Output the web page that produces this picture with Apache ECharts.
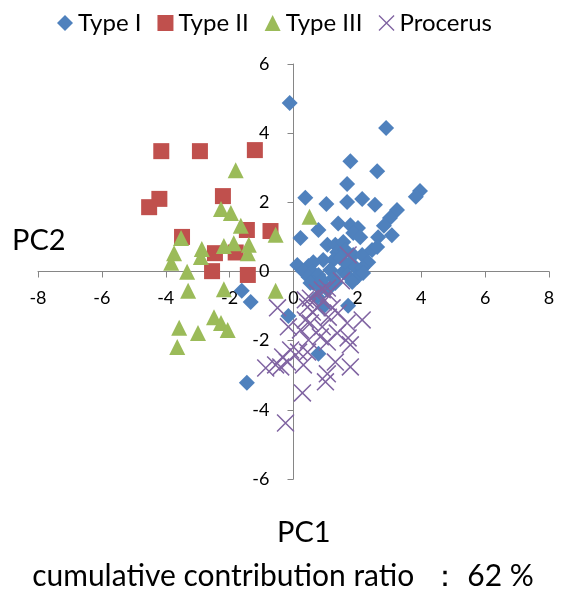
<!DOCTYPE html>
<html>
<head>
<meta charset="utf-8">
<title>PCA scatter</title>
<script src="https://cdn.jsdelivr.net/npm/echarts@6/dist/echarts.min.js"></script>
<style>
  html, body { margin: 0; padding: 0; background: #fff; }
  #main { width: 566px; height: 596px; }
</style>
</head>
<body>
<div id="main"></div>
<script>
// [PC1, PC2]
const typeI = [
  [-0.12, 4.87], [2.90, 4.15], [1.78, 3.19], [2.62, 2.90], [1.68, 2.53],
  [3.96, 2.33], [3.83, 2.16], [0.37, 2.13], [1.03, 1.95], [1.68, 2.01],
  [2.15, 2.10], [2.55, 1.93], [3.24, 1.78], [3.02, 1.55], [2.83, 1.32],
  [1.40, 1.39], [1.78, 1.34], [2.02, 1.26], [1.87, 1.11], [2.09, 0.99],
  [2.65, 0.99], [3.08, 1.05], [0.78, 1.20], [0.22, 0.97], [1.06, 0.77],
  [1.31, 0.77], [1.37, 0.56], [1.56, 0.85], [1.62, 0.62], [0.93, 0.33],
  [1.25, 0.33], [1.46, 0.39], [1.87, 0.48], [2.15, 0.48], [2.46, 0.62],
  [2.34, 0.27], [2.62, 0.71], [0.12, 0.19], [0.47, 0.16], [0.62, 0.27],
  [0.31, 0.01], [0.59, -0.01], [1.15, 0.04], [1.56, -0.01], [1.71, 0.19],
  [1.93, 0.13], [2.15, 0.10], [1.25, -0.19], [1.68, -0.10], [2.00, -0.16],
  [2.18, -0.04], [1.84, -0.30], [0.47, -0.16], [0.78, -0.10], [0.62, -0.33],
  [0.90, -0.25], [0.53, -0.33], [0.84, -0.45], [0.75, -0.74], [0.93, -1.03],
  [1.31, -0.33], [1.06, -0.53], [1.71, -0.99], [-1.62, -0.56], [-1.34, -0.88],
  [-0.16, -1.29], [0.78, -2.38], [-1.46, -3.22]
];
const typeII = [
  [-4.14, 3.48], [-2.93, 3.48], [-1.21, 3.51], [-4.20, 2.10], [-4.52, 1.86],
  [-2.21, 2.18], [-3.49, 1.00], [-1.46, 1.20], [-0.72, 1.17], [-2.46, 0.53],
  [-2.55, 0.01], [-1.43, -0.10], [-1.81, 0.55]
];
const typeIII = [
  [-1.81, 2.93], [-2.27, 1.81], [-1.96, 1.69], [-1.65, 1.32], [-0.56, 1.06],
  [-3.52, 0.97], [-3.74, 0.53], [-3.83, 0.25], [-2.87, 0.65], [-2.90, 0.42],
  [-3.33, -0.01], [-3.30, -0.56], [-2.18, 0.74], [-1.87, 0.82], [-1.40, 0.77],
  [-1.43, 0.53], [-2.18, -0.51], [-0.56, -0.56], [-2.49, -1.32], [-2.27, -1.49],
  [-2.06, -1.69], [-3.58, -1.63], [-2.99, -1.78], [-3.64, -2.18], [0.50, 1.58]
];
const procerus = [
  [1.71, 0.48], [1.50, -0.27], [1.06, -0.48], [0.75, -0.62], [0.90, -0.53],
  [0.53, -0.77], [0.37, -0.82], [1.09, -0.65], [0.93, -0.88], [1.21, -1.05],
  [-0.50, -1.05], [0.44, -1.03], [0.75, -1.05], [0.37, -1.40], [0.53, -1.49],
  [0.90, -1.60], [1.09, -1.32], [1.40, -1.20], [1.68, -1.49], [2.15, -1.40],
  [1.37, -1.78], [1.71, -1.92], [1.78, -2.12], [0.84, -1.89], [1.06, -2.04],
  [0.47, -1.98], [-0.16, -1.60], [-0.09, -2.27], [-0.34, -2.47], [0.16, -2.33],
  [0.44, -2.33], [-0.19, -2.62], [-0.56, -2.70], [-0.87, -2.79], [-0.40, -2.76],
  [0.31, -2.70], [0.28, -3.51], [1.06, -2.96], [1.00, -3.19], [1.31, -2.62],
  [1.78, -2.76], [-0.25, -4.38], [0.59, -1.17], [0.22, -1.69]
];
const seriesNames = ['Type I', 'Type II', 'Type III', 'Procerus'];
const xTitle = 'PC1';
const yTitle = 'PC2';
const footNote = 'cumulative contribution ratio \u00a0\uff1a\u00a062 %';

const FONT = 'Lato, "Open Sans", sans-serif';
// thin X drawn as two filled bars
const crossPath = 'path://M0,0.6L0.6,0L10,9.4L9.4,10ZM9.4,0L10,0.6L0.6,10L0,9.4Z';

// plot box
const gridBox = { left: 38, right: 17, top: 64, bottom: 117 };
const plotW = 566 - gridBox.left - gridBox.right;
const plotH = 596 - gridBox.top - gridBox.bottom;

const chart = echarts.init(document.getElementById('main'), null, { renderer: 'canvas' });

const axisCommon = {
  type: 'value',
  interval: 2,
  axisLine: { onZero: false, lineStyle: { color: '#868686', width: 1 } },
  axisTick: { show: true, length: 6, lineStyle: { color: '#868686' } },
  splitLine: { show: false },
  axisLabel: { color: '#000', fontSize: 18, fontFamily: FONT }
};

const option = {
  backgroundColor: '#fff',
  animation: false,
  textStyle: { fontFamily: FONT },
  legend: {
    top: 6,
    left: 52,
    itemGap: 16,
    itemWidth: 16,
    itemHeight: 16,
    textStyle: { fontSize: 24, color: '#000', fontFamily: FONT },
    data: [
      { name: seriesNames[0], icon: 'diamond' },
      { name: seriesNames[1], icon: 'rect' },
      { name: seriesNames[2], icon: 'triangle' },
      { name: seriesNames[3], icon: crossPath }
    ]
  },
  grid: Object.assign({ containLabel: false }, gridBox),
  // axes crossing at the origin: shift them into the middle of the plot
  xAxis: Object.assign({}, axisCommon, {
    min: -8, max: 8,
    position: 'bottom',
    offset: -plotH / 2,
    axisLabel: Object.assign({}, axisCommon.axisLabel, { margin: 18 })
  }),
  yAxis: Object.assign({}, axisCommon, {
    min: -6, max: 6,
    position: 'left',
    offset: -plotW / 2,
    axisLabel: Object.assign({}, axisCommon.axisLabel, { margin: 24 })
  }),
  graphic: [
    { type: 'text', left: 12, top: 226, style: { text: yTitle, fontSize: 29, fontFamily: FONT, fill: '#000' } },
    { type: 'text', left: 277, top: 518, style: { text: xTitle, fontSize: 29, fontFamily: FONT, fill: '#000' } },
    { type: 'text', left: 'center', top: 561, style: { text: footNote, fontSize: 30, fontFamily: FONT, fill: '#000' } }
  ],
  series: [
    {
      name: seriesNames[0], type: 'scatter', data: typeI,
      symbol: 'diamond', symbolSize: 16,
      itemStyle: { color: '#4F81BD', opacity: 1 }
    },
    {
      name: seriesNames[1], type: 'scatter', data: typeII,
      symbol: 'rect', symbolSize: 16,
      itemStyle: { color: '#C0504D', opacity: 1 }
    },
    {
      name: seriesNames[2], type: 'scatter', data: typeIII,
      symbol: 'triangle', symbolSize: 16,
      itemStyle: { color: '#9BBB59', opacity: 1 }
    },
    {
      name: seriesNames[3], type: 'scatter', data: procerus,
      symbol: crossPath, symbolSize: 18,
      itemStyle: { color: '#8064A2', opacity: 1 }
    }
  ]
};

chart.setOption(option);
</script>
</body>
</html>
